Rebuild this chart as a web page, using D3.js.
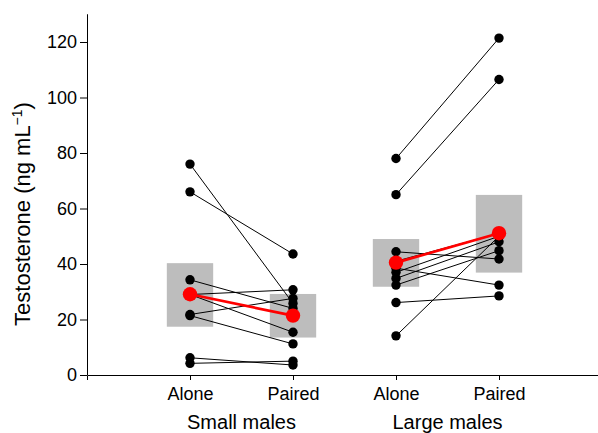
<!DOCTYPE html>
<html>
<head>
<meta charset="utf-8">
<script src="https://cdn.jsdelivr.net/npm/d3@7"></script>
<style>
  body { margin: 0; background: #fff; }
  svg { font-family: "Liberation Sans", Arial, sans-serif; }
</style>
</head>
<body>
<svg id="chart" width="598" height="433"></svg>
<script>
// data
const conditions = ['Alone', 'Paired', 'Alone', 'Paired'];
const groups = ['Small males', 'Large males'];
const yTicks = [0, 20, 40, 60, 80, 100, 120];

// individual fish, alone -> paired
const smallAlone  = [76, 66, 34.3, 29, 29, 21.8, 21.4, 6.2, 4.2];
const smallPaired = [25.8, 43.6, 24, 30.7, 15.4, 27.6, 11.2, 3.6, 5.0];
const largeAlone  = [78, 65, 44.4, 41, 38.5, 37, 34.8, 32.4, 26.1, 14.1];
const largePaired = [121.4, 106.5, 41.8, 51, 32.4, 50, 48, 44.8, 28.5, 50];

// group means (red) and shaded ranges (grey)
const means = [29.1, 21.4, 40.5, 51.1];
const boxLow = [17.4, 13.5, 31.8, 36.9];
const boxHigh = [40.3, 29.2, 49.0, 64.9];

let svg = d3.select('#chart');
let x = d3.scaleLinear().domain([0, 5]).range([87, 602]);
let y = d3.scaleLinear().domain([0, 130]).range([375, 14.25]);

// grey boxes
svg.selectAll('rect.box')
  .data(means)
  .enter()
  .append('rect')
    .attr('class', 'box')
    .attr('x', (d, i) => x(i + 1 - 0.225))
    .attr('width', x(0.45) - x(0))
    .attr('y', (d, i) => y(boxHigh[i]))
    .attr('height', (d, i) => y(boxLow[i]) - y(boxHigh[i]))
    .style('fill', '#bdbdbd');

// pairs of points: [x position of alone, alone value, paired value]
let pairs = [];
smallAlone.forEach((v, i) => pairs.push([1, v, smallPaired[i]]));
largeAlone.forEach((v, i) => pairs.push([3, v, largePaired[i]]));

svg.selectAll('line.ind')
  .data(pairs)
  .enter()
  .append('line')
    .attr('x1', d => x(d[0]))
    .attr('y1', d => y(d[1]))
    .attr('x2', d => x(d[0] + 1))
    .attr('y2', d => y(d[2]))
    .style('stroke', '#000')
    .style('stroke-width', 1);

let dots = [];
pairs.forEach(d => {
  dots.push([d[0], d[1]]);
  dots.push([d[0] + 1, d[2]]);
});

svg.selectAll('circle.ind')
  .data(dots)
  .enter()
  .append('circle')
    .attr('cx', d => x(d[0]))
    .attr('cy', d => y(d[1]))
    .attr('r', 4.7)
    .style('fill', '#000');

// mean lines and dots
[[0, 1], [2, 3]].forEach(p => {
  svg.append('line')
    .attr('x1', x(p[0] + 1)).attr('y1', y(means[p[0]]))
    .attr('x2', x(p[1] + 1)).attr('y2', y(means[p[1]]))
    .style('stroke', '#ff0000')
    .style('stroke-width', 2.7);
});

svg.selectAll('circle.mean')
  .data(means)
  .enter()
  .append('circle')
    .attr('cx', (d, i) => x(i + 1))
    .attr('cy', d => y(d))
    .attr('r', 7.2)
    .style('fill', '#ff0000');

// axes
let yAxis = svg.append('g')
  .attr('transform', 'translate(87,0)')
  .call(d3.axisLeft(y).tickValues(yTicks).tickSizeOuter(0).tickSize(7).tickPadding(3));
yAxis.select('.domain').attr('d', 'M0.5,' + y(130) + 'V' + y(0)).attr('stroke', '#000');
yAxis.selectAll('text').style('font-size', '18px').style('font-family', '"Liberation Sans", Arial, sans-serif').attr('fill', '#000');
yAxis.selectAll('line').attr('stroke', '#000');

let xAxis = svg.append('g')
  .attr('transform', 'translate(0,375)')
  .call(d3.axisBottom(x).tickValues([1, 2, 3, 4]).tickSizeOuter(0).tickSize(5).tickPadding(7)
    .tickFormat((d, i) => conditions[i]));
xAxis.select('.domain').attr('stroke', '#000');
xAxis.selectAll('line').attr('stroke', '#000');
xAxis.selectAll('text').style('font-size', '18px').style('font-family', '"Liberation Sans", Arial, sans-serif').attr('fill', '#000');

// group labels
svg.selectAll('text.group')
  .data(groups)
  .enter()
  .append('text')
    .attr('x', (d, i) => x(i * 2 + 1.5))
    .attr('y', 429)
    .attr('text-anchor', 'middle')
    .style('font-size', '20px')
    .text(d => d);

// y title
let title = svg.append('text')
  .attr('transform', 'translate(30,' + 214 + ') rotate(-90)')
  .attr('text-anchor', 'middle')
  .style('font-size', '22px');
title.append('tspan').text('Testosterone (ng mL');
title.append('tspan').attr('dy', -8).style('font-size', '14px').text('\u22121');
title.append('tspan').attr('dy', 8).text(')');
</script>
</body>
</html>
